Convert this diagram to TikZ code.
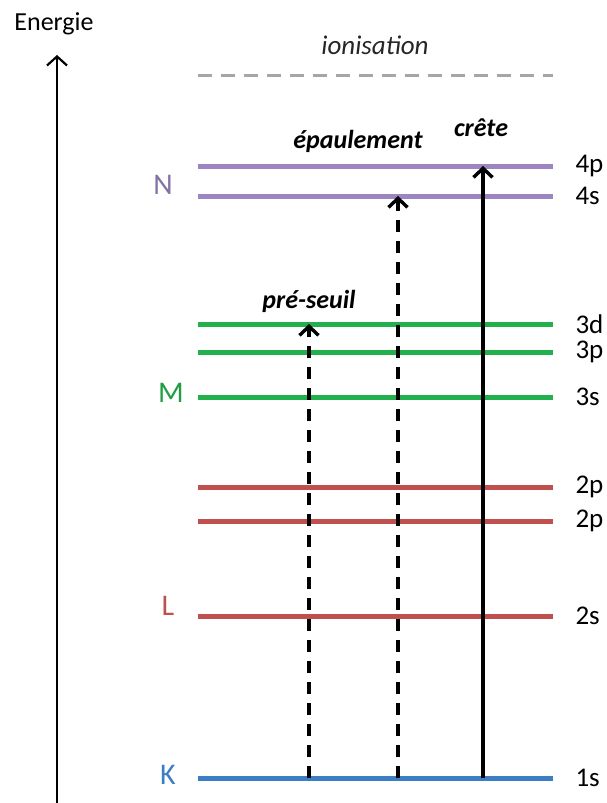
\documentclass[tikz,border=0pt]{standalone}
\usepackage{fontspec}
\setmainfont{Carlito}
\usetikzlibrary{arrows.meta}

\definecolor{shellN}{HTML}{9C85C0}
\definecolor{shellM}{HTML}{22B04C}
\definecolor{shellL}{HTML}{C0504D}
\definecolor{shellK}{HTML}{3C7DC4}
\definecolor{ionis}{HTML}{A6A6A6}

\tikzset{
    level/.style={line width=5pt},
    orb/.style={right, inner sep=0pt, xshift=20pt, font=\fontsize{27}{30}\selectfont},
    shell/.style={font=\fontsize{30}{32}\selectfont},
    trans/.style={line width=3.4pt, -{Straight Barb[length=9pt,width=19pt]}},
    tlabel/.style={font=\fontsize{26}{30}\selectfont\bfseries\itshape},
    dashpat/.style={dash pattern=on 12pt off 9pt}
}

\begin{document}
\begin{tikzpicture}[x=1pt, y=-1pt]
    \useasboundingbox (0,0) rectangle (606,803);
    % energy axis
    \node[font=\fontsize{26}{30}\selectfont] (energie) at (54,24) {Energie};
    \coordinate (axbot) at (57,803);
    \coordinate (axtop) at (57,55);
    \draw[line width=2.2pt, -{Straight Barb[length=9pt,width=20pt]}] (axbot) -- (axtop);
    % ionisation threshold
    \coordinate (ionl) at (198,75);
    \coordinate (ionr) at (553,75);
    \draw[ionis, line width=3pt, dash pattern=on 14pt off 9pt] (ionl) -- (ionr);
    \node[font=\fontsize{27}{30}\selectfont\itshape, text=black!85] (ionisation) at (375,45) {ionisation};
    % levels
    \foreach \y/\lab/\col/\name in {166/4p/shellN/n4p, 196/4s/shellN/n4s,
        324/3d/shellM/n3d, 352/3p/shellM/n3p, 397/3s/shellM/n3s,
        487/2p/shellL/n2pa, 521/2p/shellL/n2pb, 616/2s/shellL/n2s,
        778/1s/shellK/n1s}
        \draw[level, \col] (198,\y) -- (553,\y) coordinate (\name)
            node[orb, text=black] {\lab};
    % shells
    \node[shell, text=shellN!85!black] (shN) at (163,185) {N};
    \node[shell, text=shellM!90!black] (shM) at (171,393) {M};
    \node[shell, text=shellL] (shL) at (168,606) {L};
    \node[shell, text=shellK] (shK) at (168,775) {K};
    % transitions
    \coordinate (pre) at (309,0);
    \coordinate (epa) at (398,0);
    \coordinate (cre) at (483,0);
    \draw[trans, dashpat] (pre |- n1s) -- (pre |- n3d);
    \draw[trans, dashpat] (epa |- n1s) -- (epa |- n4s);
    \draw[trans] (cre |- n1s) -- (cre |- n4p);
    \node[tlabel] (preseuil) at (309,301) {pré-seuil};
    \node[tlabel] (epaulement) at (358,141) {épaulement};
    \node[tlabel] (crete) at (481,128) {crête};
\end{tikzpicture}
\end{document}
